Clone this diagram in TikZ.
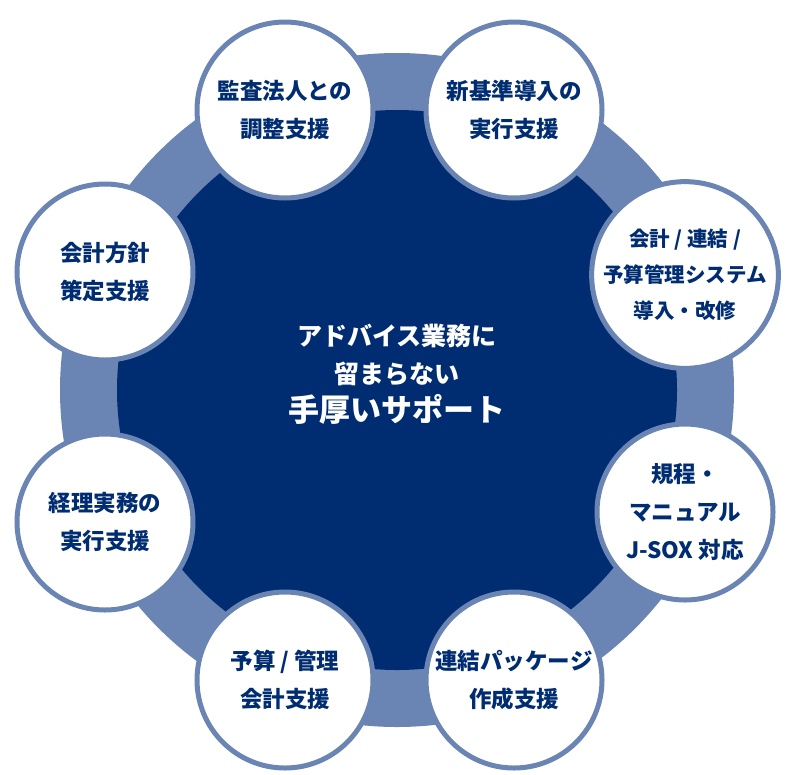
\documentclass[tikz,border=0pt]{standalone}
\usepackage{fontspec}
\setmainfont{Noto Sans CJK JP}
\definecolor{navy}{HTML}{002D72}
\definecolor{ringblue}{HTML}{6A85B3}
\tikzset{
  topic/.style={circle, draw=ringblue, line width=5pt, fill=white,
    minimum size=176pt, inner sep=0pt, align=center, text=navy, font=\fontsize{22.5}{38}\selectfont\bfseries},
}
\begin{document}
\begin{tikzpicture}[x=1pt, y=-1pt]
\useasboundingbox (0,0) rectangle (794,774);
% ring and centre
\fill[ringblue] (397,390) circle (337);
\fill[navy] (397,390) circle (280);
\node[text=white, align=center, font=\fontsize{25}{38}\selectfont\bfseries] (core) at (397,374)
  {アドバイス業務に\\留まらない\\{\fontsize{31}{46}\selectfont 手厚いサポート}};
% topics around
\node[topic] (audit)   at (285,110) {監査法人との\\調整支援};
\node[topic] (newstd)  at (514,110) {新基準導入の\\実行支援};
\node[topic, font=\fontsize{20.5}{36}\selectfont\bfseries] (system) at (685,275) {会計 / 連結 /\\予算管理システム\\導入・改修};
\node[topic] (rules)   at (685,512) {規程・\\マニュアル\\J-SOX 対応};
\node[topic] (package) at (514,680) {連結パッケージ\\作成支援};
\node[topic] (budget)  at (285,680) {予算 / 管理\\会計支援};
\node[topic] (daily)   at (105,522) {経理実務の\\実行支援};
\node[topic] (policy)  at (105,272) {会計方針\\策定支援};
\end{tikzpicture}
\end{document}
